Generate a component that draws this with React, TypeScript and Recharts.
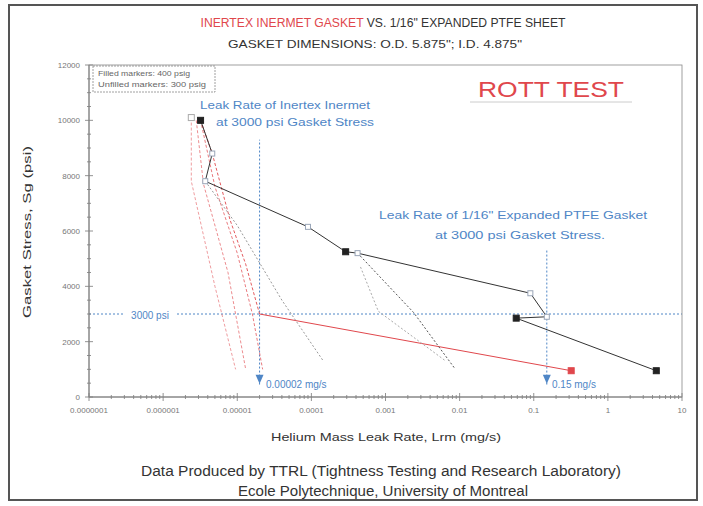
import React from "react";
import { ScatterChart, Scatter, XAxis, YAxis, ReferenceLine, ReferenceDot } from "recharts";

const FONT = "'Liberation Sans', Arial, sans-serif";
const RED = "#e0474c";
const BLUE = "#4f86c6";

// axis ticks
const X_MAJOR = [1e-7, 1e-6, 1e-5, 1e-4, 1e-3, 1e-2, 1e-1, 1, 10];
const Y_MAJOR = [0, 2000, 4000, 6000, 8000, 10000, 12000];

// 1/16" expanded PTFE: [leak rate mg/s, gasket stress psi, pressure psig]
const PTFE_PATH = [
  [3.2e-6, 10000, 400],
  [4.6e-6, 8800, 300],
  [3.7e-6, 7800, 300],
  [9e-5, 6150, 300],
  [2.9e-4, 5250, 400],
  [4.2e-4, 5200, 300],
  [0.09, 3750, 300],
  [0.15, 2900, 300],
  [0.058, 2850, 400],
  [4.5, 950, 400],
];

// Inertex Inermet cycles: [leak rate mg/s, gasket stress psi]
const INERMET_A = [[2.4e-6, 10100], [2.4e-6, 7800], [5e-6, 4000], [9.5e-6, 1000]];
const INERMET_B = [[2.8e-6, 10000], [3.5e-6, 7700], [7.5e-6, 4500], [1.3e-5, 1000]];
const INERMET_C = [[3.2e-6, 10000], [5e-6, 7600], [1e-5, 5200], [1.6e-5, 3000], [2.2e-5, 1000]];
const INERMET_MAIN = [[3.2e-6, 10000], [4.6e-6, 8800], [8e-6, 6400], [1.3e-5, 4800], [2e-5, 3000]];
const INERMET_TAIL = [[2e-5, 3000], [0.32, 950]];

// unloading cycles (gray dotted)
const GRAY_A = [[3.7e-6, 7800], [1e-5, 6200], [4e-5, 3500], [1.45e-4, 1300]];
const GRAY_B = [[4.2e-4, 5200], [2.4e-3, 3050], [8.5e-3, 1050]];
const GRAY_C = [[4.6e-4, 4700], [8e-4, 3100], [6.5e-3, 1300]];

const INERMET_LEAK_3000 = 0.00002;
const PTFE_LEAK_3000 = 0.15;
const STRESS_REF = 3000;

const pts = (arr: number[][]) => arr.map(([x, y, p]) => ({ x, y, p }));

const xTicks = [
  ...X_MAJOR,
  ...X_MAJOR.slice(0, -1).flatMap((d) => [2, 3, 4, 5, 6, 7, 8, 9].map((m) => m * d)),
].sort((a, b) => a - b);
const yTicks = Array.from({ length: 25 }, (_, i) => i * 500);

function fmtX(v: number) {
  const dec = Math.max(0, -Math.round(Math.log10(v)));
  return v.toFixed(dec);
}

function XTick(props: any) {
  const { x, y, payload } = props;
  const v = payload.value;
  const major = X_MAJOR.some((m) => Math.abs(m - v) / m < 1e-6);
  const h = major ? 4 : 2;
  return (
    <g>
      <line x1={x} x2={x} y1={y - h} y2={y + h} stroke="#777" strokeWidth={0.8} />
      {major && (
        <text x={x} y={y + 16} textAnchor="middle" fontSize={8} fill="#777" fontFamily={FONT}>
          {fmtX(v)}
        </text>
      )}
    </g>
  );
}

function YTick(props: any) {
  const { x, y, payload } = props;
  const v = payload.value;
  const major = Y_MAJOR.includes(v);
  const h = major ? 4 : 2;
  return (
    <g>
      <line x1={x - h} x2={x + h} y1={y} y2={y} stroke="#777" strokeWidth={0.8} />
      {major && (
        <text x={x - 9} y={y + 3} textAnchor="end" fontSize={8} fill="#777" fontFamily={FONT}>
          {v}
        </text>
      )}
    </g>
  );
}

const noDot = () => <g />;

function PtfeDot(props: any) {
  const { cx, cy, payload } = props;
  if (cx == null || cy == null) return <g />;
  if (payload.p === 400) {
    return <rect x={cx - 3} y={cy - 3} width={6} height={6} fill="#222" stroke="#222" />;
  }
  return <rect x={cx - 2.5} y={cy - 2.5} width={5} height={5} fill="#fff" stroke="#9aa6b8" strokeWidth={1} />;
}

function RedDot(props: any) {
  const { cx, cy, index } = props;
  if (index !== INERMET_TAIL.length - 1) return <g />;
  return <rect x={cx - 3} y={cy - 3} width={6} height={6} fill={RED} stroke={RED} />;
}

function Triangle(props: any) {
  const { cx, cy } = props;
  return <path d={`M${cx - 4},${cy - 5} L${cx + 4},${cy - 5} L${cx},${cy + 4} Z`} fill={BLUE} />;
}

function OpenSquare(props: any) {
  const { cx, cy } = props;
  return <rect x={cx - 3} y={cy - 3} width={6} height={6} fill="#fff" stroke="#aaa" />;
}

const dashedRed = (op: number) => ({ stroke: RED, strokeWidth: 0.9, strokeDasharray: "3 2", strokeOpacity: op });
const dottedGray = (c: string) => ({ stroke: c, strokeWidth: 1, strokeDasharray: "2 2" });

export default function App() {
  return (
    <div style={{ position: "absolute", left: 0, top: 0, width: 703, height: 506, background: "#fff" }}>
      <ScatterChart width={703} height={506} margin={{ top: 65, right: 21, bottom: 79, left: 39 }}>
        <XAxis
          type="number"
          dataKey="x"
          scale="log"
          domain={[1e-7, 10]}
          allowDataOverflow
          ticks={xTicks}
          interval={0}
          tickSize={0}
          tickMargin={0}
          tickLine={false}
          tick={<XTick />}
          height={30}
          stroke="#777"
        />
        <YAxis
          type="number"
          dataKey="y"
          domain={[0, 12000]}
          ticks={yTicks}
          interval={0}
          tickSize={0}
          tickMargin={0}
          tickLine={false}
          tick={<YTick />}
          width={50}
          stroke="#777"
        />
        <ReferenceLine y={STRESS_REF} stroke={BLUE} strokeWidth={1} strokeDasharray="2 2" />
        <ReferenceLine
          segment={[{ x: INERMET_LEAK_3000, y: 450 }, { x: INERMET_LEAK_3000, y: 9300 }]}
          stroke={BLUE}
          strokeDasharray="2 2"
        />
        <ReferenceLine
          segment={[{ x: PTFE_LEAK_3000, y: 450 }, { x: PTFE_LEAK_3000, y: 5300 }]}
          stroke={BLUE}
          strokeDasharray="2 2"
        />

        <Scatter data={pts(INERMET_A)} line={dashedRed(0.6)} stroke={RED} shape={noDot} isAnimationActive={false} />
        <Scatter data={pts(INERMET_B)} line={dashedRed(0.7)} stroke={RED} shape={noDot} isAnimationActive={false} />
        <Scatter data={pts(INERMET_C)} line={dashedRed(0.8)} stroke={RED} shape={noDot} isAnimationActive={false} />
        <Scatter data={pts(INERMET_MAIN)} line={dashedRed(1)} stroke={RED} shape={noDot} isAnimationActive={false} />
        <Scatter data={pts(INERMET_TAIL)} line={{ stroke: RED, strokeWidth: 1 }} stroke={RED} shape={RedDot} isAnimationActive={false} />

        <Scatter data={pts(GRAY_A)} line={dottedGray("#999")} stroke="#999" shape={noDot} isAnimationActive={false} />
        <Scatter data={pts(GRAY_B)} line={dottedGray("#555")} stroke="#555" shape={noDot} isAnimationActive={false} />
        <Scatter data={pts(GRAY_C)} line={dottedGray("#aaa")} stroke="#aaa" shape={noDot} isAnimationActive={false} />

        <Scatter data={pts(PTFE_PATH)} line={{ stroke: "#333", strokeWidth: 1 }} stroke="#333" shape={PtfeDot} isAnimationActive={false} />

        <ReferenceDot x={INERMET_A[0][0]} y={INERMET_A[0][1]} shape={OpenSquare} />
        <ReferenceDot x={INERMET_LEAK_3000} y={620} shape={Triangle} />
        <ReferenceDot x={PTFE_LEAK_3000} y={620} shape={Triangle} />
      </ScatterChart>

      <svg width={703} height={506} style={{ position: "absolute", left: 0, top: 0, pointerEvents: "none" }} fontFamily={FONT}>
        <rect x={9} y={5} width={688} height={495} fill="none" stroke="#555" strokeWidth={2} />
        <rect x={89} y={65} width={593} height={332} fill="none" stroke="#888" strokeWidth={0.8} />

        <text x={383} y={27} textAnchor="middle" fontSize={12.5} textLength={365} lengthAdjust="spacingAndGlyphs">
          <tspan fill={RED}>INERTEX INERMET GASKET</tspan>
          <tspan fill="#333"> VS. 1/16" EXPANDED PTFE SHEET</tspan>
        </text>
        <text x={375} y={48} textAnchor="middle" fontSize={10.5} fill="#333" textLength={294} lengthAdjust="spacingAndGlyphs">
          GASKET DIMENSIONS: O.D. 5.875"; I.D. 4.875"
        </text>

        <rect x={93} y={66} width={122} height={26} fill="#fff" stroke="#888" strokeWidth={0.8} strokeDasharray="2 1" />
        <text x={98} y={76} fontSize={7} fill="#666" textLength={92} lengthAdjust="spacingAndGlyphs">Filled markers: 400 psig</text>
        <text x={98} y={87} fontSize={7} fill="#666" textLength={108} lengthAdjust="spacingAndGlyphs">Unfilled markers: 300 psig</text>

        <line x1={470} y1={102} x2={632} y2={102} stroke="#ccc" strokeWidth={1} />
        <text x={551} y={97} textAnchor="middle" fontSize={22} fill={RED} textLength={146} lengthAdjust="spacingAndGlyphs">
          ROTT TEST
        </text>

        <text x={285} y={109} textAnchor="middle" fontSize={11.5} fill={BLUE} textLength={170} lengthAdjust="spacingAndGlyphs">
          Leak Rate of Inertex Inermet
        </text>
        <text x={295} y={126} textAnchor="middle" fontSize={11.5} fill={BLUE} textLength={158} lengthAdjust="spacingAndGlyphs">
          at 3000 psi Gasket Stress
        </text>
        <text x={513} y={219} textAnchor="middle" fontSize={11.5} fill={BLUE} textLength={268} lengthAdjust="spacingAndGlyphs">
          Leak Rate of 1/16" Expanded PTFE Gasket
        </text>
        <text x={520} y={239} textAnchor="middle" fontSize={11.5} fill={BLUE} textLength={170} lengthAdjust="spacingAndGlyphs">
          at 3000 psi Gasket Stress.
        </text>

        <rect x={124} y={309} width={52} height={13} fill="#fff" />
        <text x={150} y={319} textAnchor="middle" fontSize={10} fill={BLUE}>3000 psi</text>
        <text x={266} y={388} fontSize={10} fill={BLUE}>0.00002 mg/s</text>
        <text x={552} y={388} fontSize={10} fill={BLUE}>0.15 mg/s</text>

        <text x={386} y={441} textAnchor="middle" fontSize={11} fill="#333" textLength={230} lengthAdjust="spacingAndGlyphs">
          Helium Mass Leak Rate, Lrm (mg/s)
        </text>
        <text x={31} y={232} textAnchor="middle" fontSize={11} fill="#333" transform="rotate(-90 31 232)" textLength={172} lengthAdjust="spacingAndGlyphs">
          Gasket Stress, Sg (psi)
        </text>

        <text x={381} y={476} textAnchor="middle" fontSize={14} fill="#333" textLength={480} lengthAdjust="spacingAndGlyphs">
          Data Produced by TTRL (Tightness Testing and Research Laboratory)
        </text>
        <text x={383} y={496} textAnchor="middle" fontSize={14} fill="#333" textLength={290} lengthAdjust="spacingAndGlyphs">
          Ecole Polytechnique, University of Montreal
        </text>
      </svg>
    </div>
  );
}
